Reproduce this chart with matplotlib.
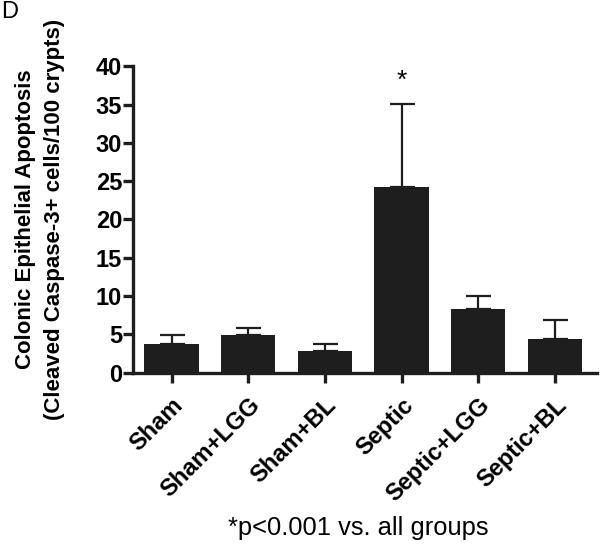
import numpy as np
import matplotlib.pyplot as plt

plt.rcParams['font.family'] = ['Liberation Sans', 'DejaVu Sans']

# dane
groups = ['Sham', 'Sham+LGG', 'Sham+BL', 'Septic', 'Septic+LGG', 'Septic+BL']
means = [3.8, 4.9, 2.8, 24.3, 8.3, 4.4]
sem = [1.1, 1.0, 1.0, 10.8, 1.7, 2.5]
star_group = 'Septic'

fig = plt.figure(figsize=(6.0, 5.47), dpi=100)
ax = fig.add_axes([0.222, 0.3186, 0.773, 0.5604])

x = np.arange(len(groups))
ax.bar(x, means, width=0.71, color='#1e1e1e', zorder=2)
ax.errorbar(x, means, yerr=[np.zeros(len(sem)), sem], fmt='none',
            ecolor='#1e1e1e', elinewidth=1.6, capsize=9, capthick=1.6, zorder=1)

# gwiazdka nad Septic
i = groups.index(star_group)
ax.text(x[i], means[i] + sem[i] + 3.0, '*', ha='center', va='center',
        fontsize=19)

ax.set_xlim(-0.5, 5.55)
ax.set_ylim(0, 40)
ax.set_yticks(np.arange(0, 41, 5))
ax.set_xticks(x)
ax.set_xticklabels(groups, rotation=45, ha='right', rotation_mode='anchor',
                   fontsize=17, fontweight='bold')
for lab in ax.get_yticklabels():
    lab.set_fontsize(17)
    lab.set_fontweight('bold')

for s in ['top', 'right']:
    ax.spines[s].set_visible(False)
for s in ['left', 'bottom']:
    ax.spines[s].set_linewidth(2.4)
    ax.spines[s].set_color('#1e1e1e')
ax.tick_params(axis='both', direction='out', length=7, width=2.4,
               color='#1e1e1e', pad=1)
ax.tick_params(axis='x', pad=8)

ax.set_ylabel('Colonic Epithelial Apoptosis\n(Cleaved Caspase-3+ cells/100 crypts)',
              fontsize=16, fontweight='bold', linespacing=1.45)
ax.yaxis.set_label_coords(-0.148, 0.5)

fig.text(0.002, 0.998, 'D', ha='left', va='top', fontsize=17)
fig.text(0.597, 0.035, '*p<0.001 vs. all groups', ha='center', va='center',
         fontsize=18.4)

plt.savefig('out.png', dpi=100)
